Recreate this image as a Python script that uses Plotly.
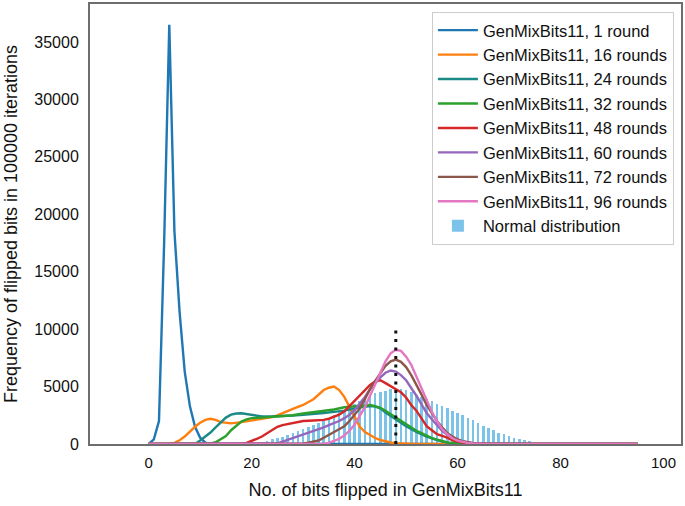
import plotly.graph_objects as go

# ---- data ----
blue_x = [0, 1, 2, 3, 4, 5, 6, 7, 8, 9, 10, 11, 12, 95]
blue_y = [0, 400, 2000, 17500, 36500, 18500, 11500, 6300, 3300, 1500, 550, 120, 0, 0]

orange_x = [0, 3, 4, 5, 6, 7, 8, 9, 10, 11, 12, 13, 14, 15, 16, 18, 20, 22, 24, 25, 26, 27, 28, 30,
            32, 34, 35, 36, 37, 38, 39, 40, 41, 42, 43, 44, 45, 46, 47, 48, 50, 52, 95]
orange_y = [0, 0, 30, 100, 330, 650, 1100, 1500, 1850, 2100, 2200, 2100, 1900, 1820, 1800, 1900, 2050,
            2220, 2350, 2500, 2700, 2850, 3050, 3400, 3900, 4700, 4900, 5000, 4700, 4100, 3250, 2400,
            1500, 1050, 750, 520, 350, 220, 130, 70, 15, 0, 0]

teal_x = [0, 9, 10, 11, 12, 13, 14, 15, 16, 17, 18, 19, 20, 21, 22, 24, 26, 28, 30, 32, 34, 36, 38,
          40, 42, 43, 44, 45, 46, 48, 50, 52, 54, 56, 58, 60, 62, 95]
teal_y = [0, 0, 300, 650, 1000, 1450, 1900, 2300, 2550, 2650, 2680, 2600, 2500, 2450, 2400, 2400,
          2420, 2480, 2550, 2600, 2700, 2800, 2900, 3100, 3250, 3300, 3250, 3100, 2750, 2150, 1550,
          1050, 650, 350, 120, 20, 0, 0]

green_x = [0, 11, 12, 13, 14, 15, 16, 17, 18, 19, 20, 22, 24, 26, 28, 30, 32, 34, 36, 38, 40, 42, 43,
           44, 45, 46, 47, 48, 49, 50, 51, 52, 53, 54, 55, 56, 57, 58, 59, 60, 61, 95]
green_y = [0, 0, 60, 150, 400, 700, 1200, 1600, 1950, 2150, 2250, 2300, 2350, 2420, 2500, 2650, 2750,
           2850, 3000, 3200, 3300, 3380, 3400, 3300, 3150, 2900, 2600, 2300, 2000, 1700, 1400, 1150,
           950, 700, 520, 380, 250, 140, 60, 20, 0, 0]

red_x = [0, 18, 19, 20, 21, 22, 23, 24, 25, 26, 27, 28, 29, 30, 32, 34, 35, 36, 37, 38, 39, 40, 41, 42,
         43, 44, 45, 46, 47, 48, 49, 50, 51, 52, 53, 54, 55, 56, 57, 58, 59, 60, 61, 62, 63, 65, 95]
red_y = [0, 0, 100, 250, 450, 650, 950, 1250, 1500, 1650, 1750, 1850, 1950, 2000, 2050, 2100, 2200,
         2350, 2550, 2850, 3300, 3750, 4200, 4700, 5150, 5450, 5550, 5300, 5050, 4800, 4500, 4050,
         3400, 2900, 2200, 1550, 1200, 850, 700, 550, 320, 200, 120, 70, 40, 0, 0]

purple_x = [0, 24, 25, 26, 27, 28, 29, 30, 31, 32, 33, 34, 35, 36, 37, 38, 39, 40, 41, 42, 43, 44, 45,
            46, 47, 48, 49, 50, 51, 52, 53, 54, 55, 56, 57, 58, 59, 60, 61, 62, 63, 64, 66, 95]
purple_y = [0, 0, 50, 200, 350, 500, 700, 850, 1000, 1150, 1300, 1450, 1650, 1800, 2000, 2250, 2550,
            2950, 3500, 4100, 4750, 5300, 5800, 6200, 6400, 6300, 6000, 5550, 4900, 4200, 3450, 2700,
            2150, 1600, 1150, 800, 550, 350, 220, 130, 80, 40, 0, 0]

brown_x = [0, 29, 30, 31, 32, 33, 34, 35, 36, 37, 38, 39, 40, 41, 42, 43, 44, 45, 46, 47, 48, 49, 50,
           51, 52, 53, 54, 55, 56, 57, 58, 59, 60, 61, 62, 63, 64, 66, 95]
brown_y = [0, 0, 50, 120, 200, 300, 550, 800, 1100, 1350, 1550, 2000, 2550, 3100, 3900, 4800, 5500,
           6200, 6800, 7200, 7350, 7150, 6700, 6000, 5200, 4300, 3400, 2700, 2000, 1450, 950, 650,
           400, 250, 150, 80, 40, 0, 0]

pink_x = [0, 34, 35, 36, 37, 38, 39, 40, 41, 42, 43, 44, 45, 46, 47, 48, 49, 50, 51, 52, 53, 54, 55,
          56, 57, 58, 59, 60, 61, 62, 63, 65, 95]
pink_y = [0, 0, 100, 250, 450, 750, 1150, 1700, 2400, 3200, 4200, 5200, 6300, 7200, 7900, 8200, 8100,
          7600, 6900, 5900, 4900, 3800, 2800, 2000, 1300, 850, 500, 300, 170, 90, 50, 0, 0]

normal_x = list(range(22, 75))
normal_y = [200, 300, 400, 550, 650, 800, 950, 1100, 1300, 1450, 1650, 1850, 2050, 2300, 2550, 2800,
            3000, 3250, 3500, 3750, 3950, 4200, 4400, 4550, 4650, 4750, 4800, 4750, 4700, 4500, 4300,
            4100, 3900, 3700, 3500, 3300, 3100, 2900, 2700, 2500, 2250, 2050, 1800, 1600, 1400, 1200,
            1000, 850, 700, 550, 420, 320, 220]

mean_x = [48, 48]
mean_y = [0, 10000]

x_ticks = [0, 20, 40, 60, 80, 100]
x_ticklabels = ["0", "20", "40", "60", "80", "100"]
y_ticks = [0, 5000, 10000, 15000, 20000, 25000, 30000, 35000]
y_ticklabels = ["0", "5000", "10000", "15000", "20000", "25000", "30000", "35000"]

series = [
    ("GenMixBits11, 1 round", blue_x, blue_y, "#1f77b4"),
    ("GenMixBits11, 16 rounds", orange_x, orange_y, "#ff7f0e"),
    ("GenMixBits11, 24 rounds", teal_x, teal_y, "#1b8a87"),
    ("GenMixBits11, 32 rounds", green_x, green_y, "#2ca02c"),
    ("GenMixBits11, 48 rounds", red_x, red_y, "#d62728"),
    ("GenMixBits11, 60 rounds", purple_x, purple_y, "#9467bd"),
    ("GenMixBits11, 72 rounds", brown_x, brown_y, "#8c564b"),
    ("GenMixBits11, 96 rounds", pink_x, pink_y, "#e377c2"),
]

fig = go.Figure()

fig.add_trace(go.Bar(x=normal_x, y=normal_y, name="Normal distribution",
                     marker=dict(color="#7cc3ea", line=dict(width=0)),
                     width=0.5, legendrank=2000))

for i, (name, xs, ys, col) in enumerate(series):
    fig.add_trace(go.Scatter(x=xs, y=ys, mode="lines", name=name,
                             line=dict(color=col, width=2.4), legendrank=100 + i))

fig.add_trace(go.Scatter(x=mean_x, y=mean_y, mode="lines", showlegend=False,
                         line=dict(color="#111111", width=3, dash="3px,5.5px")))

font_family = "Liberation Sans, Arial, sans-serif"

fig.update_layout(
    width=685, height=506,
    margin=dict(l=90, r=4, t=4, b=62, autoexpand=False),
    paper_bgcolor="white", plot_bgcolor="white",
    font=dict(family=font_family, size=15, color="#111111"),
    bargap=0,
    legend=dict(x=0.988, y=0.982, xanchor="right", yanchor="top",
                bgcolor="white", bordercolor="#cccccc", borderwidth=1,
                font=dict(size=16.5, family=font_family, color="#111111"),
                itemwidth=40),
    xaxis=dict(range=[-11.4, 103.4], tickvals=x_ticks, ticktext=x_ticklabels,
               showgrid=False, zeroline=False, automargin=True,
               showline=True, mirror=True, linecolor="#6e6e6e", linewidth=2,
               ticks="", tickfont=dict(size=15), ticklabelstandoff=4,
               title=dict(text="No. of bits flipped in GenMixBits11", font=dict(size=18), standoff=13)),
    yaxis=dict(range=[0, 38300], tickvals=y_ticks, ticktext=y_ticklabels,
               showgrid=False, zeroline=False, automargin=True,
               showline=True, mirror=True, linecolor="#6e6e6e", linewidth=2,
               ticks="", tickfont=dict(size=16), ticklabelstandoff=6,
               title=dict(text="Frequency of flipped bits in 100000 iterations", font=dict(size=18), standoff=12)),
)

fig.write_html("out.html", config={"displayModeBar": False},
               post_script="document.body.style.margin='0';")
